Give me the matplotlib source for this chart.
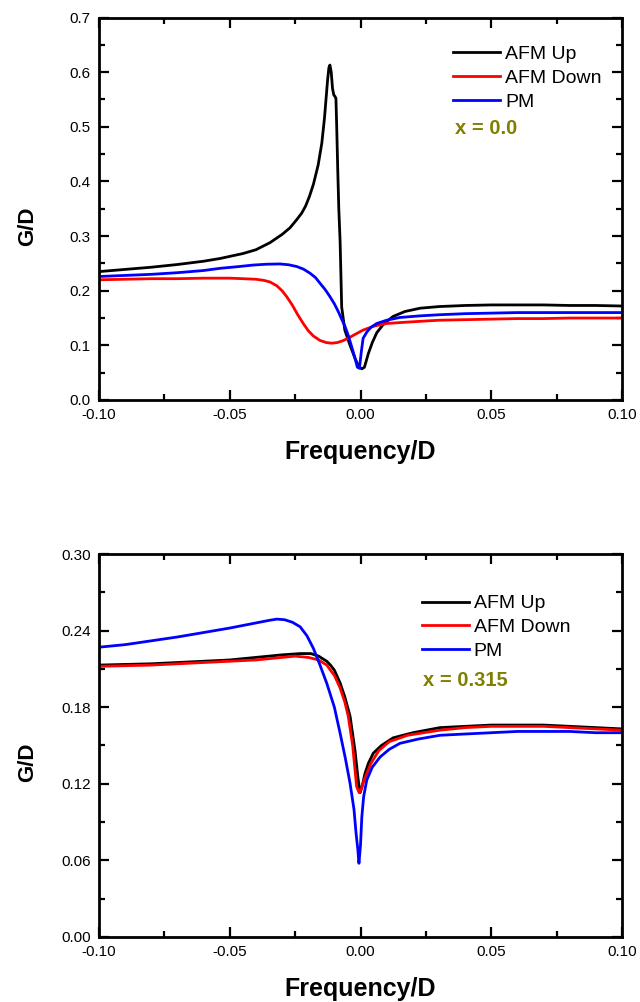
import matplotlib
matplotlib.use("Agg")
import matplotlib.pyplot as plt
from matplotlib.ticker import MultipleLocator, FormatStrFormatter

plt.rcParams['font.family'] = ['Liberation Sans', 'DejaVu Sans']

# ---------- Top panel (x = 0.0) ----------
top_up_x = [-0.100, -0.090, -0.080, -0.070, -0.060, -0.0537, -0.045, -0.040, -0.0346, -0.030,
            -0.027, -0.0244, -0.0225, -0.021, -0.0195, -0.018, -0.0162, -0.0148, -0.0138,
            -0.0132, -0.0126, -0.0121, -0.0117, -0.0112, -0.0107, -0.0102, -0.0098, -0.0094,
            -0.0091, -0.0087, -0.0083, -0.0078, -0.0072, -0.0060, -0.0040, -0.0020, -0.0005,
            0.0005, 0.0015, 0.0030, 0.0045, 0.0062, 0.0090, 0.0125, 0.0170, 0.0228, 0.030,
            0.040, 0.050, 0.060, 0.070, 0.080, 0.090, 0.100]
top_up_y = [0.235, 0.239, 0.243, 0.248, 0.254, 0.259, 0.268, 0.275, 0.288, 0.303,
            0.315, 0.330, 0.342, 0.355, 0.373, 0.395, 0.430, 0.470, 0.515,
            0.550, 0.585, 0.608, 0.613, 0.600, 0.570, 0.558, 0.556, 0.552,
            0.500, 0.420, 0.350, 0.290, 0.170, 0.128, 0.100, 0.075, 0.060,
            0.057, 0.060, 0.085, 0.105, 0.123, 0.140, 0.153, 0.162, 0.168, 0.171,
            0.173, 0.174, 0.174, 0.174, 0.173, 0.173, 0.172]

top_down_x = [-0.100, -0.090, -0.080, -0.070, -0.060, -0.050, -0.045, -0.040, -0.0370, -0.0346,
              -0.0320, -0.0300, -0.0282, -0.0260, -0.0240, -0.0219, -0.0200, -0.0180, -0.0155,
              -0.0130, -0.0110, -0.0090, -0.0070, -0.0047, -0.0025, 0.0010, 0.0050, 0.0100,
              0.0160, 0.0228, 0.030, 0.040, 0.050, 0.060, 0.070, 0.080, 0.090, 0.100]
top_down_y = [0.220, 0.221, 0.222, 0.222, 0.223, 0.223, 0.222, 0.221, 0.219, 0.216,
              0.209, 0.200, 0.189, 0.173, 0.156, 0.140, 0.127, 0.117, 0.109,
              0.105, 0.104, 0.105, 0.108, 0.113, 0.119, 0.128, 0.135, 0.140,
              0.142, 0.144, 0.146, 0.147, 0.148, 0.149, 0.149, 0.150, 0.150, 0.150]

top_pm_x = [-0.100, -0.090, -0.080, -0.070, -0.060, -0.0537, -0.047, -0.041, -0.036,
            -0.0308, -0.0275, -0.0244, -0.0218, -0.0193, -0.0172, -0.0155, -0.0135, -0.0117,
            -0.0100, -0.0085, -0.0072, -0.0059, -0.0046, -0.0034, -0.0022, -0.0012, -0.0004,
            0.0003, 0.0010, 0.0025, 0.0040, 0.0062, 0.0100, 0.0150, 0.0228, 0.030, 0.040,
            0.050, 0.060, 0.070, 0.080, 0.090, 0.100]
top_pm_y = [0.226, 0.228, 0.230, 0.233, 0.237, 0.241, 0.244, 0.247, 0.2485,
            0.249, 0.2475, 0.2443, 0.2395, 0.232, 0.224, 0.2138, 0.202, 0.1893,
            0.176, 0.1618, 0.148, 0.1343, 0.117, 0.0977, 0.078, 0.060, 0.058,
            0.088, 0.113, 0.125, 0.133, 0.140, 0.146, 0.151, 0.154, 0.156, 0.158,
            0.159, 0.160, 0.160, 0.160, 0.160, 0.160]

# ---------- Bottom panel (x = 0.315) ----------
bot_up_x = [-0.100, -0.080, -0.060, -0.050, -0.040, -0.030, -0.0231, -0.0190, -0.0160,
            -0.0145, -0.0129, -0.0115, -0.0100, -0.0078, -0.0060, -0.0040, -0.0021, -0.0010,
            -0.0002, 0.0005, 0.0017, 0.0030, 0.0049, 0.0080, 0.0125, 0.0200, 0.0304, 0.040,
            0.050, 0.060, 0.070, 0.080, 0.090, 0.100]
bot_up_y = [0.213, 0.214, 0.216, 0.217, 0.219, 0.221, 0.222, 0.222, 0.220,
            0.218, 0.216, 0.213, 0.209, 0.199, 0.188, 0.173, 0.146, 0.125,
            0.113, 0.117, 0.128, 0.136, 0.144, 0.150, 0.156, 0.160, 0.164, 0.165,
            0.166, 0.166, 0.166, 0.165, 0.164, 0.163]

bot_down_x = [-0.100, -0.080, -0.060, -0.050, -0.040, -0.030, -0.0250, -0.0200, -0.0160,
              -0.0145, -0.0129, -0.0115, -0.0100, -0.0078, -0.0060, -0.0047, -0.0030, -0.0015,
              -0.0005, 0.0003, 0.0012, 0.0024, 0.0040, 0.0070, 0.0110, 0.0180, 0.0304, 0.040,
              0.050, 0.060, 0.070, 0.080, 0.090, 0.100]
bot_down_y = [0.212, 0.213, 0.215, 0.216, 0.217, 0.219, 0.220, 0.219, 0.217,
              0.215, 0.213, 0.209, 0.205, 0.195, 0.184, 0.173, 0.150, 0.118,
              0.113, 0.116, 0.122, 0.128, 0.136, 0.146, 0.153, 0.158, 0.162, 0.164,
              0.165, 0.165, 0.165, 0.164, 0.163, 0.162]

bot_pm_x = [-0.100, -0.090, -0.080, -0.0700, -0.0614, -0.050, -0.040, -0.035, -0.032,
            -0.029, -0.026, -0.0231, -0.0205, -0.0180, -0.0155, -0.0129, -0.0100, -0.0078,
            -0.0058, -0.0040, -0.0025, -0.0017, -0.0010, -0.0006, 0.0000, 0.0005, 0.0012,
            0.0024, 0.0045, 0.0075, 0.0110, 0.0151, 0.0220, 0.0304, 0.040, 0.050, 0.060,
            0.070, 0.080, 0.090, 0.100]
bot_pm_y = [0.227, 0.229, 0.232, 0.235, 0.238, 0.242, 0.246, 0.248, 0.249,
            0.2485, 0.2465, 0.243, 0.236, 0.226, 0.213, 0.1987, 0.180, 0.1596,
            0.140, 0.1204, 0.100, 0.0812, 0.068, 0.0577, 0.072, 0.094, 0.110,
            0.123, 0.133, 0.141, 0.147, 0.1517, 0.155, 0.158, 0.159, 0.160, 0.161,
            0.161, 0.161, 0.160, 0.160]

labels = ["AFM Up", "AFM Down", "PM"]
colors = ["black", "red", "blue"]
annots = ["x = 0.0", "x = 0.315"]

x_ticks = [-0.10, -0.05, 0.00, 0.05, 0.10]

fig = plt.figure(figsize=(6.4, 10.02), dpi=100)
ax1 = fig.add_axes([0.1547, 0.6008, 0.8172, 0.3817])
ax2 = fig.add_axes([0.1547, 0.0649, 0.8172, 0.3822])

panels = [
    (ax1, [(top_up_x, top_up_y), (top_down_x, top_down_y), (top_pm_x, top_pm_y)],
     (0.0, 0.7), 0.1, 0.05, "%.1f", annots[0], (0.662, 0.947), (0.681, 0.709)),
    (ax2, [(bot_up_x, bot_up_y), (bot_down_x, bot_down_y), (bot_pm_x, bot_pm_y)],
     (0.0, 0.30), 0.06, 0.03, "%.2f", annots[1], (0.602, 0.914), (0.6195, 0.671)),
]

for ax, series, ylim, ymaj, ymin, yfmt, annot, legpos, annpos in panels:
    handles = []
    for (xs, ys), lab, col in zip(series, labels, colors):
        h, = ax.plot(xs, ys, color=col, lw=2.0, label=lab, solid_joinstyle='round')
        handles.append(h)
    ax.set_xlim(-0.1, 0.1)
    ax.set_ylim(*ylim)
    ax.set_xticks(x_ticks)
    ax.xaxis.set_minor_locator(MultipleLocator(0.025))
    ax.yaxis.set_major_locator(MultipleLocator(ymaj))
    ax.yaxis.set_minor_locator(MultipleLocator(ymin))
    ax.xaxis.set_major_formatter(FormatStrFormatter("%.2f"))
    ax.yaxis.set_major_formatter(FormatStrFormatter(yfmt))
    ax.tick_params(which='both', direction='in', top=True, right=True, labelsize=11,
                   width=1.6, pad=6)
    ax.tick_params(which='major', length=7)
    ax.tick_params(which='minor', length=4)
    for sp in ax.spines.values():
        sp.set_linewidth(2.0)
    ax.set_xlabel("Frequency/D", fontsize=18, fontweight='bold')
    ax.xaxis.set_label_coords(0.5, -0.105)
    ax.set_ylabel("G/D", fontsize=16, fontweight='bold')
    ax.yaxis.set_label_coords(-0.1166, 0.455)
    ax.legend(handles=handles, loc='upper left', bbox_to_anchor=legpos,
              frameon=False, fontsize=14, handlelength=2.42, handletextpad=0.26,
              labelspacing=0.32, borderaxespad=0.0)
    ax.text(annpos[0], annpos[1], annot, transform=ax.transAxes, color='#808000',
            fontsize=14.5, fontweight='bold', va='center', ha='left')

fig.savefig("out.png", dpi=100)
